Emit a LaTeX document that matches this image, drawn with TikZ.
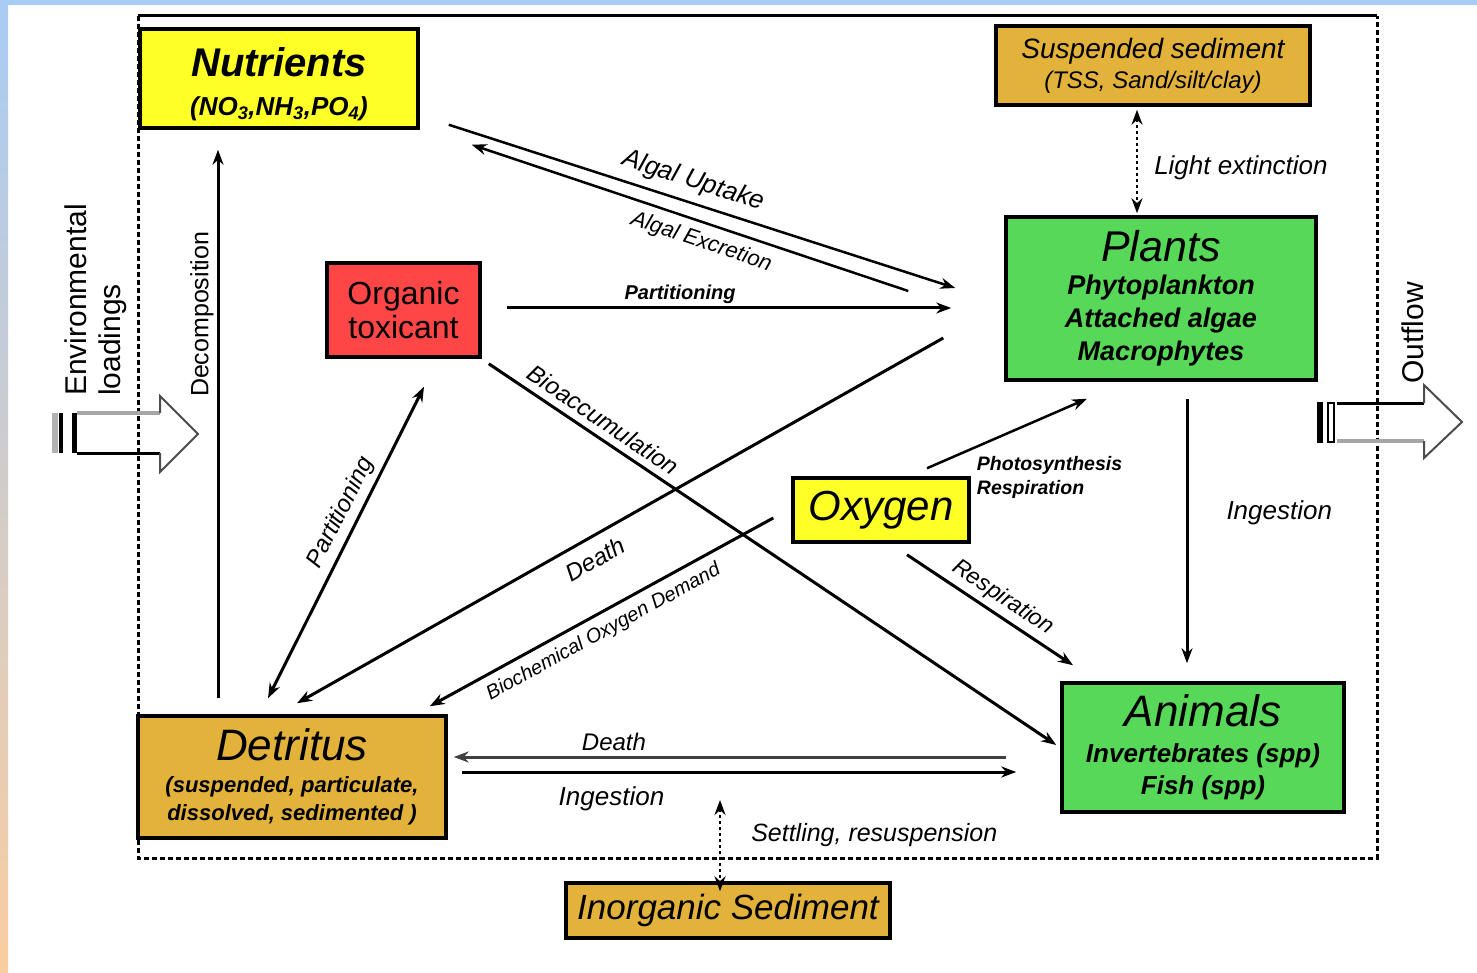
\documentclass[tikz,border=0pt]{standalone}
\usepackage{fontspec}
\setmainfont{Liberation Sans}
\usetikzlibrary{arrows.meta,calc}

\definecolor{nutyellow}{RGB}{255,255,40}
\definecolor{sedgold}{RGB}{226,178,58}
\definecolor{biogreen}{RGB}{88,216,88}
\definecolor{toxred}{RGB}{255,70,70}
\definecolor{stripblue}{RGB}{168,204,245}
\definecolor{strippeach}{RGB}{250,205,160}

\newcommand{\fsz}[2]{\fontsize{#1}{#2}\selectfont}

\tikzset{
  box/.style={draw, line width=3.5pt, inner sep=0pt, align=center},
  flow/.style={line width=3pt},
  thinflow/.style={line width=2.5pt},
  dotflow/.style={line width=2.5pt, dash pattern=on 3pt off 3pt},
  lbl/.style={inner sep=3pt, font=\itshape\fsz{24}{28}},
}

\begin{document}
\begin{tikzpicture}[x=1pt, y=-1pt, >={Stealth[length=15pt,width=11pt]}]
  \useasboundingbox (0,0) rectangle (1477,973);
  % Background
  \fill[white] (0,0) rectangle (1477,973);
  \fill[stripblue] (0,0) rectangle (1477,5);
  \shade[top color=stripblue, bottom color=strippeach] (0,0) rectangle (8,973);

  % System boundary
  \draw[line width=3pt] (138,16) -- (1377,16);
  \draw[line width=3pt, dash pattern=on 5pt off 3pt] (138,16) -- (138,858) -- (1377,858) -- (1377,16);

  % Compartments
  \node[box, fill=nutyellow, minimum width=278pt, minimum height=99pt, font=\fsz{26}{39}\bfseries\itshape] (nut) at (279,78.5)
    {\rule{0pt}{40pt}{\fsz{40}{39}Nutrients}\\(NO\textsubscript{3},NH\textsubscript{3},PO\textsubscript{4})};
  \node[box, fill=sedgold, minimum width=314pt, minimum height=79pt, font=\fsz{24}{30}\itshape] (sus) at (1153,65.5)
    {{\fsz{28}{30}Suspended sediment}\\(TSS, Sand/silt/clay)};
  \node[box, fill=biogreen, minimum width=310pt, minimum height=163pt, font=\fsz{27}{33}\bfseries\itshape] (pl) at (1161,298.5)
    {{\fsz{43}{33}\mdseries Plants}\\Phytoplankton\\Attached algae\\Macrophytes};
  \node[box, fill=toxred, minimum width=153pt, minimum height=94pt, font=\fsz{32}{34}] (tox) at (403.5,310)
    {Organic\\toxicant};
  \node[box, fill=nutyellow, minimum width=176pt, minimum height=64pt, font=\fsz{42}{42}\itshape] (ox) at (881,510)
    {Oxygen};
  \node[box, fill=biogreen, minimum width=282pt, minimum height=129pt, font=\fsz{26}{32}\bfseries\itshape] (an) at (1203,747.5)
    {{\fsz{44}{32}\mdseries Animals}\\[4pt]Invertebrates (spp)\\Fish (spp)};
  \node[box, fill=sedgold, minimum width=308pt, minimum height=122pt, font=\fsz{22}{28}\bfseries\itshape] (det) at (292,777)
    {{\fsz{44}{28}\mdseries Detritus}\\[4pt](suspended, particulate,\\dissolved, sedimented )};
  \node[box, fill=sedgold, minimum width=324pt, minimum height=55pt, font=\fsz{35}{35}\itshape] (inorg) at (728,910.5)
    {Inorganic Sediment};

  % Fluxes
  \draw[thinflow, ->] ($(nut.south east)+(29,-5)$) --
    node[lbl, sloped, above=5pt, pos=.47, font=\itshape\fsz{26}{28}] (lupt) {Algal Uptake} ($(pl.west)+(-49,-10.5)$);
  \draw[thinflow, <-] ($(nut.south east)+(52,15)$) --
    node[lbl, sloped, below=5pt, pos=.54, font=\itshape\fsz{22}{26}] (lexc) {Algal Excretion} ($(pl.west)+(-96,-7.5)$);
  \draw[flow, ->] ($(tox.east)+(25,-2)$) --
    node[lbl, above, pos=.39, font=\bfseries\itshape\fsz{20}{24}] (lpar1) {Partitioning} ($(pl.west)+(-53,9.5)$);
  \draw[flow, ->] ($(tox.south east)+(7,5)$) --
    node[lbl, sloped, above=4pt, pos=.185, font=\itshape\fsz{24}{28}] (lbio) {Bioaccumulation} ($(an.west)+(-4,-2.5)$);
  \draw[flow, <-] ($(det.north)+(5,-11)$) --
    node[lbl, sloped, below=8pt, pos=.445] (ldth1) {Death} ($(pl.west)+(-61,39.5)$);
  \draw[flow, <-] ($(det.north east)+(-18,-8)$) --
    node[lbl, sloped, below=5pt, pos=.48, font=\itshape\fsz{20}{24}] (lbod) {Biochemical Oxygen Demand} ($(ox.west)+(-18,8)$);
  \draw[flow, <->] ($(det.north)+(-24,-16)$) --
    node[lbl, sloped, above=2pt, pos=.57] (lpar2) {Partitioning} ($(tox.south)+(20.5,28)$);
  \draw[flow, ->] ($(det.north)+(-74,-16)$) --
    node[lbl, sloped, above, pos=.70, font=\fsz{25}{28}] (ldec) {Decomposition} ($(nut.south)+(-61,20)$);
  \draw[thinflow, ->] ($(ox.north)+(46,-8)$) -- ($(pl.south)+(-74,17)$);
  \node[anchor=west, align=left, inner sep=0pt, font=\bfseries\itshape\fsz{19.5}{24}] (lpho) at ($(ox.north east)+(6,1)$)
    {Photosynthesis\\Respiration};
  \draw[flow, ->] ($(ox.south)+(26,11)$) --
    node[lbl, sloped, above=2pt, pos=.52, font=\itshape\fsz{23}{26}] (lres) {Respiration} ($(an.north)+(-130,-16)$);
  \draw[flow, ->] ($(pl.south)+(26,17)$) --
    node[lbl, right=35pt, pos=.43, font=\itshape\fsz{26}{28}] (ling1) {Ingestion} ($(an.north)+(-16,-18)$);
  \draw[flow, <-, black!75] ($(det.east)+(6,-20)$) --
    node[lbl, above=2pt, pos=.29, black] (ldth2) {Death} ($(an.west)+(-54,9.5)$);
  \draw[flow, ->] ($(det.east)+(14,-5)$) --
    node[lbl, below=10pt, pos=.27, font=\itshape\fsz{26}{28}] (ling2) {Ingestion} ($(an.west)+(-44,24.5)$);
  \draw[dotflow, <->] ($(sus.south)+(-16,3)$) --
    node[lbl, right=13pt, pos=.56, font=\itshape\fsz{26}{28}] (llight) {Light extinction} ($(pl.north)+(-24,-2)$);
  \coordinate (settop) at (720,800);
  \draw[dotflow, <->] (settop) --
    node[lbl, right=27pt, pos=.38, font=\itshape\fsz{25}{28}] (lsettle) {Settling, resuspension} ($(inorg.north)+(-8,10)$);

  % Environmental loadings
  \node[rotate=90, anchor=west, inner sep=0pt, font=\fsz{30}{30}] (envtxt) at (76,396) {Environmental};
  \node[rotate=90, anchor=west, inner sep=0pt, font=\fsz{30}{30}] (loadtxt) at (113,396) {loadings};
  \fill[gray!60] (52,413) rectangle (58,453);
  \draw[line width=4pt] (61,413) -- (61,453);
  \draw[line width=5pt] (74.5,413) -- (74.5,453);
  \draw[line width=4pt, gray!70] (77,413) -- (160,413);
  \draw[line width=3pt] (77,453) -- (160,453);
  \draw[line width=2pt, black!70] (160,413) -- (160,396) -- (198,434) -- (160,472) -- (160,453);

  % Outflow
  \node[rotate=90, inner sep=0pt, font=\fsz{30}{30}] (outtxt) at (1413,333) {Outflow};
  \fill (1317,402) rectangle (1323,443);
  \draw[line width=2pt] (1328,403) rectangle (1334,442);
  \draw[line width=3pt] (1337,403) -- (1424,403);
  \draw[line width=4pt, gray!70] (1337,441) -- (1424,441);
  \draw[line width=2pt, black!70] (1424,403) -- (1424,385) -- (1462,422) -- (1424,458) -- (1424,441);
\end{tikzpicture}
\end{document}
